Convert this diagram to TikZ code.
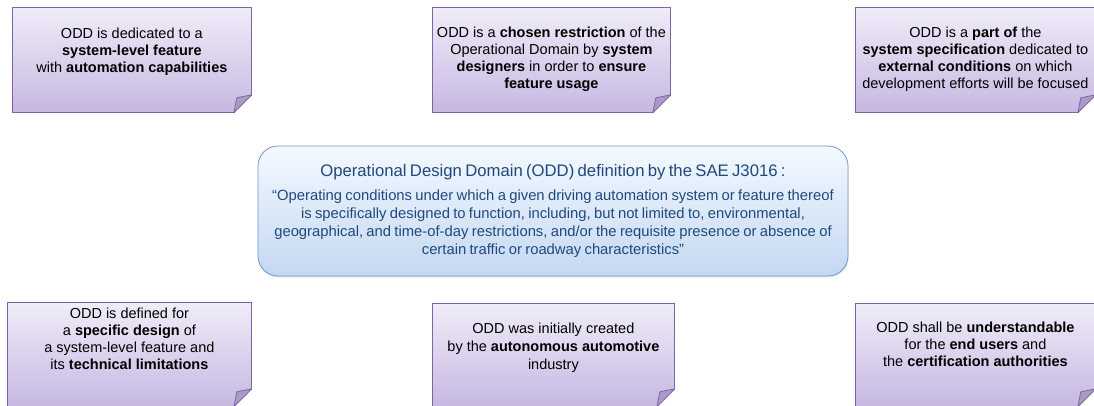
\documentclass[tikz,border=0pt]{standalone}
\usepackage{fontspec}
\setmainfont{Liberation Sans}
\usetikzlibrary{positioning}
\usetikzlibrary{calc}
\usetikzlibrary{shadows}

\definecolor{notetop}{RGB}{240,236,248}
\definecolor{notebottom}{RGB}{198,184,226}
\definecolor{noteline}{RGB}{128,100,162}
\definecolor{notefold}{RGB}{168,156,198}
\definecolor{deftop}{RGB}{244,249,255}
\definecolor{defbottom}{RGB}{196,216,242}
\definecolor{defline}{RGB}{112,150,204}
\definecolor{deftext}{RGB}{31,73,125}

\begin{document}
\begin{tikzpicture}[x=1pt, y=1pt,
    notebox/.style={draw=noteline, line width=0.8pt, top color=notetop, bottom color=notebottom, inner sep=0pt, anchor=north west},
    notetext/.style={align=center, font=\fontsize{14.5}{17}\selectfont, inner sep=0pt},
    defbox/.style={draw=defline, line width=0.8pt, rounded corners=20pt, top color=deftop, bottom color=defbottom, text=deftext, minimum width=590pt, minimum height=130pt, text width=586pt, align=center, inner sep=0pt, drop shadow={opacity=0.2, shadow xshift=0.5pt, shadow yshift=-1.5pt}},
    fold/.style={draw=noteline, fill=notefold, line width=0.8pt, line join=round}]

    \useasboundingbox (0,0) rectangle (1094,-405);

    % definition in the middle
    \node[defbox] (odd) at (553,-211) {{\fontsize{16.7}{18}\selectfont Operational Design Domain (ODD) definition by the SAE J3016 :\par}\vspace{6pt}{\fontsize{14.8}{18}\selectfont “Operating conditions under which a given driving automation system or feature thereof\\ is specifically designed to function, including, but not limited to, environmental,\\ geographical, and time-of-day restrictions, and/or the requisite presence or absence of\\ certain traffic or roadway characteristics”\par}};

    % notes
    \node[notebox, minimum width=239pt, minimum height=105pt] (n1) at (12,-7) {};
    \node[notebox, minimum width=238pt, minimum height=105pt] (n2) at (432,-7) {};
    \node[notebox, minimum width=240pt, minimum height=105pt] (n3) at (855,-7) {};
    \node[notebox, minimum width=244pt, minimum height=104pt] (n4) at (7,-302) {};
    \node[notebox, minimum width=242pt, minimum height=103pt] (n5) at (432,-303) {};
    \node[notebox, minimum width=240pt, minimum height=103pt] (n6) at (855,-303) {};

    \node[notetext, below=20.5pt of n1.north] (t1) {ODD is dedicated to a\\ \textbf{system-level feature}\\ with \textbf{automation capabilities}};
    \node[notetext, below=19.5pt of n2.north] (t2) {ODD is a \textbf{chosen restriction} of the\\ Operational Domain by \textbf{system}\\ \textbf{designers} in order to \textbf{ensure}\\ \textbf{feature usage}};
    \node[notetext, below=19.5pt of n3.north] (t3) {ODD is a \textbf{part of} the\\ \textbf{system specification} dedicated to\\ \textbf{external conditions} on which\\ development efforts will be focused};
    \node[notetext, below=5.5pt of n4.north] (t4) {ODD is defined for\\ a \textbf{specific design} of\\ a system-level feature and\\ its \textbf{technical limitations}};
    \node[notetext, below=19.5pt of n5.north, font=\fontsize{14.5}{18}\selectfont] (t5) {ODD was initially created\\ by the \textbf{autonomous automotive}\\ industry};
    \node[notetext, below=18.5pt of n6.north] (t6) {ODD shall be \textbf{understandable}\\ for the \textbf{end users} and\\ the \textbf{certification authorities}};

    % folded corners
    \fill[white] ($(n1.south east)+(-18,-1)$) -- ($(n1.south east)+(1,-1)$) -- ($(n1.south east)+(1,18)$) -- cycle;
    \draw[fold] ($(n1.south east)+(-18,0)$) -- ($(n1.south east)+(-15,15)$) -- ($(n1.south east)+(0,18)$) -- cycle;
    \fill[white] ($(n2.south east)+(-18,-1)$) -- ($(n2.south east)+(1,-1)$) -- ($(n2.south east)+(1,18)$) -- cycle;
    \draw[fold] ($(n2.south east)+(-18,0)$) -- ($(n2.south east)+(-15,15)$) -- ($(n2.south east)+(0,18)$) -- cycle;
    \fill[white] ($(n3.south east)+(-18,-1)$) -- ($(n3.south east)+(1,-1)$) -- ($(n3.south east)+(1,18)$) -- cycle;
    \draw[fold] ($(n3.south east)+(-18,0)$) -- ($(n3.south east)+(-15,15)$) -- ($(n3.south east)+(0,18)$) -- cycle;
    \fill[white] ($(n4.south east)+(-18,-1)$) -- ($(n4.south east)+(1,-1)$) -- ($(n4.south east)+(1,18)$) -- cycle;
    \draw[fold] ($(n4.south east)+(-18,0)$) -- ($(n4.south east)+(-15,15)$) -- ($(n4.south east)+(0,18)$) -- cycle;
    \fill[white] ($(n5.south east)+(-18,-1)$) -- ($(n5.south east)+(1,-1)$) -- ($(n5.south east)+(1,18)$) -- cycle;
    \draw[fold] ($(n5.south east)+(-18,0)$) -- ($(n5.south east)+(-15,15)$) -- ($(n5.south east)+(0,18)$) -- cycle;
    \fill[white] ($(n6.south east)+(-18,-1)$) -- ($(n6.south east)+(1,-1)$) -- ($(n6.south east)+(1,18)$) -- cycle;
    \draw[fold] ($(n6.south east)+(-18,0)$) -- ($(n6.south east)+(-15,15)$) -- ($(n6.south east)+(0,18)$) -- cycle;

\end{tikzpicture}
\end{document}
